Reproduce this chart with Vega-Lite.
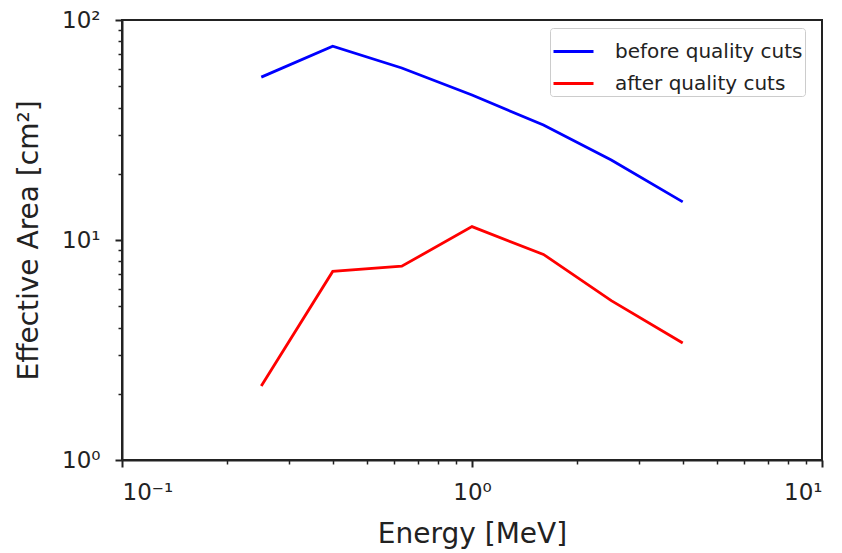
{
  "$schema": "https://vega.github.io/schema/vega-lite/v6.json",
  "width": 700,
  "height": 440,
  "autosize": {"type": "none"},
  "padding": {"left": 122, "top": 20, "right": 20, "bottom": 93},
  "background": "white",
  "config": {
    "view": {"stroke": "#222222", "strokeWidth": 2},
    "font": "DejaVu Sans",
    "axis": {"grid": false, "domainColor": "#222222", "domainWidth": 2, "tickColor": "#222222", "tickWidth": 2, "labelColor": "#222222", "titleColor": "#222222", "labelFont": "DejaVu Sans", "titleFont": "DejaVu Sans", "titleFontWeight": "normal"}
  },
  "datasets": {
    "curves": [
      {"energy": 0.25, "area": 55.0, "series": "before quality cuts"},
      {"energy": 0.4, "area": 76.0, "series": "before quality cuts"},
      {"energy": 0.63, "area": 60.5, "series": "before quality cuts"},
      {"energy": 1.0, "area": 45.6, "series": "before quality cuts"},
      {"energy": 1.6, "area": 33.3, "series": "before quality cuts"},
      {"energy": 2.5, "area": 23.1, "series": "before quality cuts"},
      {"energy": 4.0, "area": 14.9, "series": "before quality cuts"},
      {"energy": 0.25, "area": 2.17, "series": "after quality cuts"},
      {"energy": 0.4, "area": 7.2, "series": "after quality cuts"},
      {"energy": 0.63, "area": 7.6, "series": "after quality cuts"},
      {"energy": 1.0, "area": 11.5, "series": "after quality cuts"},
      {"energy": 1.6, "area": 8.6, "series": "after quality cuts"},
      {"energy": 2.5, "area": 5.3, "series": "after quality cuts"},
      {"energy": 4.0, "area": 3.4, "series": "after quality cuts"}
    ]
  },
  "data": {"name": "curves"},
  "resolve": {"axis": {"x": "independent", "y": "independent"}},
  "layer": [
    {
      "mark": {"type": "line", "opacity": 0},
      "encoding": {
        "x": {"field": "energy", "type": "quantitative", "scale": {"type": "log", "domain": [0.1, 10]},
          "axis": {"orient": "bottom", "values": [0.2,0.3,0.4,0.5,0.6,0.7,0.8,0.9,2,3,4,5,6,7,8,9], "labels": false, "domain": false, "tickSize": 4, "tickWidth": 1.5, "title": null}},
        "y": {"field": "area", "type": "quantitative", "scale": {"type": "log", "domain": [1, 100]},
          "axis": {"orient": "left", "values": [2,3,4,5,6,7,8,9,20,30,40,50,60,70,80,90], "labels": false, "domain": false, "tickSize": 4, "tickWidth": 1.5, "title": null}}
      }
    },
    {
      "mark": {"type": "line", "strokeWidth": 2.8, "clip": true},
      "encoding": {
        "x": {"field": "energy", "type": "quantitative", "scale": {"type": "log", "domain": [0.1, 10]},
          "axis": {"orient": "bottom", "values": [0.1, 1, 10], "tickSize": 7, "labelFontSize": 23, "labelPadding": 14,
            "labelExpr": "datum.value < 0.5 ? '10⁻¹' : datum.value < 5 ? '10⁰' : '10¹'",
            "title": "Energy [MeV]", "titleFontSize": 28, "titlePadding": 16}},
        "y": {"field": "area", "type": "quantitative", "scale": {"type": "log", "domain": [1, 100]},
          "axis": {"orient": "left", "values": [1, 10, 100], "tickSize": 7, "labelFontSize": 23, "labelPadding": 15,
            "labelExpr": "datum.value < 5 ? '10⁰' : datum.value < 50 ? '10¹' : '10²'",
            "title": "Effective Area [cm²]", "titleFontSize": 28, "titlePadding": 18}},
        "color": {"field": "series", "type": "nominal",
          "scale": {"domain": ["before quality cuts", "after quality cuts"], "range": ["#0000ff", "#ff0000"]},
          "legend": {"title": null, "orient": "none", "legendX": 428, "legendY": 8, "symbolType": "stroke", "symbolSize": 1600, "symbolStrokeWidth": 2.8,
            "labelFontSize": 20, "labelLimit": 400, "labelFont": "DejaVu Sans", "labelColor": "#222222", "labelOffset": 20, "strokeColor": "#cccccc", "fillColor": "white", "cornerRadius": 3, "padding": 2, "rowPadding": -4}}
      }
    }
  ]
}
